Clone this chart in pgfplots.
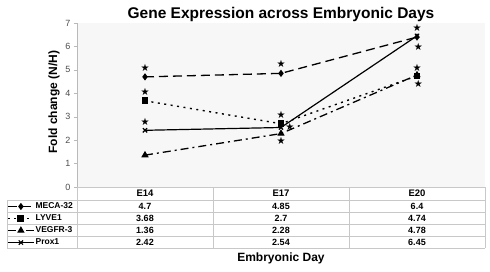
\documentclass[border=0pt]{standalone}
\usepackage{pgfplots}
\pgfplotsset{compat=1.18}
\usepackage{fontspec}
\setmainfont{Liberation Sans}
\newfontfamily\starfont{DejaVu Sans}
\usetikzlibrary{plotmarks}
\definecolor{tablegrid}{RGB}{200,200,200}
\begin{document}
\begin{tikzpicture}
\useasboundingbox (-77pt,-84pt) rectangle (413pt,187pt);
\begin{axis}[
  at={(0,0)}, anchor=south west,
  scale only axis, width=408pt, height=164pt,
  xmin=0, xmax=3, ymin=0, ymax=7,
  axis lines*=left,
  axis line style={draw=gray!55},
  xtick=\empty,
  ytick={0,1,...,7},
  tick align=outside, major tick length=3pt,
  ytick style={draw=gray!55},
  yticklabel style={font=\fontsize{9}{10}\selectfont, text=gray!60!black},
  /pgf/number format/assume math mode=true,
  axis background/.style={fill=gray!6},
  clip=false,
  title={Gene Expression across Embryonic Days},
  title style={font=\bfseries\fontsize{15.5}{16}\selectfont, at={(0.5,1)}, anchor=south, inner sep=0pt, yshift=-5pt},
  ylabel={Fold change (N/H)},
  ylabel style={font=\bfseries\fontsize{12}{13}\selectfont, at={(axis description cs:-0.056,0.518)}, anchor=center},
  xlabel={Embryonic Day},
  xlabel style={font=\bfseries\fontsize{12}{13}\selectfont, at={(axis description cs:0.5,-0.433)}, anchor=center},
  legend style={at={(-0.17157,-0.0811)}, anchor=north west, draw=none, fill=none,
    font=\bfseries\fontsize{8.5}{9}\selectfont, row sep=0pt, inner sep=0pt,
    nodes={inner sep=1pt, minimum height=12pt}},
  legend cell align=left,
  legend image code/.code={\draw[mark repeat=2,mark phase=2,#1] plot coordinates {(0pt,0pt)(13pt,0pt)(26pt,0pt)};},
]
\addplot[black, line width=1.3pt, dash pattern=on 9pt off 5pt, mark=diamond*, mark size=2.6pt, mark options={solid, fill=black}]
  coordinates {(0.5,4.7)(1.5,4.85)(2.5,6.4)};
\addlegendentry{MECA-32}
\addplot[black, line width=1.4pt, dash pattern=on 2pt off 4.5pt, mark=square*, mark size=2.7pt, mark options={solid, fill=black}]
  coordinates {(0.5,3.68)(1.5,2.7)(2.5,4.74)};
\addlegendentry{LYVE1}
\addplot[black, line width=1.3pt, dash pattern=on 8pt off 4pt on 2pt off 4pt, mark=triangle*, mark size=3pt, mark options={solid, fill=black}]
  coordinates {(0.5,1.36)(1.5,2.28)(2.5,4.78)};
\addlegendentry{VEGFR-3}
\addplot[black, line width=1.2pt, mark=x, mark size=3pt, mark options={solid}]
  coordinates {(0.5,2.42)(1.5,2.54)(2.5,6.45)};
\addlegendentry{Prox1}
\addplot[draw=none, mark=none, forget plot, nodes near coords={\starfont\char"2605},
  every node near coord/.style={anchor=center, inner sep=0pt, font=\fontsize{10}{10}\selectfont, text=black}]
  coordinates {(0.5,5.07)(0.5,4.05)(0.5,2.78)(1.5,5.24)(1.5,3.07)(1.5,1.97)(1.566,2.55)(2.5,6.77)(2.51,5.97)(2.5,5.07)(2.51,4.38)};
\end{axis}
% data table
\begin{scope}[tablegrid, line width=0.6pt]
  \draw (0pt,0pt) -- (408pt,0pt);
  \foreach \y in {-13.3,-25.3,-37.3,-49.3,-61.3} \draw (-70pt,\y pt) -- (408pt,\y pt);
  \draw (-70pt,-13.3pt) -- (-70pt,-61.3pt);
  \foreach \x in {0,136,272,408} \draw (\x pt,0pt) -- (\x pt,-61.3pt);
\end{scope}
\begin{scope}[every node/.style={font=\bfseries\fontsize{9}{10}\selectfont, text=black, inner sep=0pt}]
  \node[font=\bfseries\fontsize{9.5}{10}\selectfont] at (68pt,-6.65pt) {E14};
  \node[font=\bfseries\fontsize{9.5}{10}\selectfont] at (204pt,-6.65pt) {E17};
  \node[font=\bfseries\fontsize{9.5}{10}\selectfont] at (340pt,-6.65pt) {E20};
  \node at (68pt,-19.3pt) {4.7};   \node at (204pt,-19.3pt) {4.85}; \node at (340pt,-19.3pt) {6.4};
  \node at (68pt,-31.3pt) {3.68};  \node at (204pt,-31.3pt) {2.7};  \node at (340pt,-31.3pt) {4.74};
  \node at (68pt,-43.3pt) {1.36};  \node at (204pt,-43.3pt) {2.28}; \node at (340pt,-43.3pt) {4.78};
  \node at (68pt,-55.3pt) {2.42};  \node at (204pt,-55.3pt) {2.54}; \node at (340pt,-55.3pt) {6.45};
\end{scope}
\end{tikzpicture}
\end{document}
